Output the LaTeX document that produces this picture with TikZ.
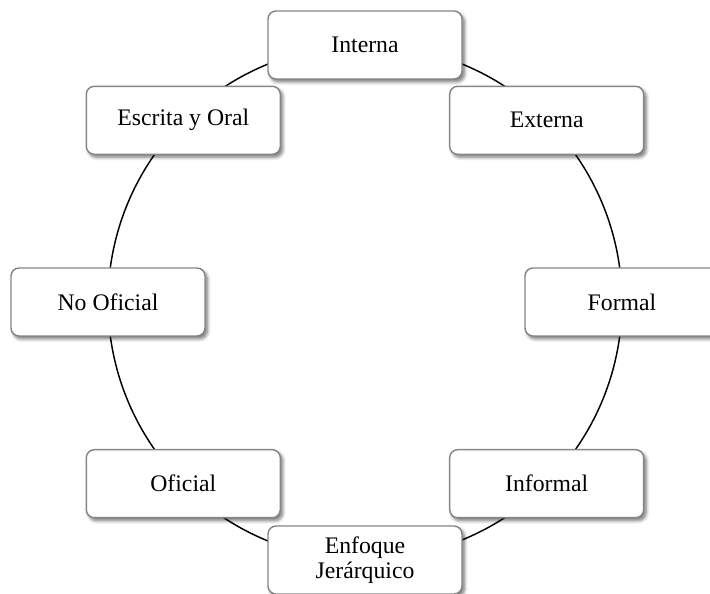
\documentclass[tikz,border=0pt]{standalone}
\usepackage{fontspec}
\setmainfont{Liberation Serif}
\usetikzlibrary{shadows.blur,backgrounds}

\begin{document}
\begin{tikzpicture}[x=0.75pt,y=0.75pt]
\tikzstyle{Block}=[draw=gray!95, line width=1.1pt, fill=white, rounded corners=6pt, minimum width=145.5pt, minimum height=51pt, align=center, font=\fontsize{17.8}{18.5}\selectfont, blur shadow={shadow xshift=1.8pt, shadow yshift=-2.2pt, shadow blur radius=2.5pt, shadow blur steps=6, shadow opacity=55}];
\tikzstyle{ring} = [line width=1.1pt];
\useasboundingbox (0,0) rectangle (710,593);
\node [Block] (v1) at (365,548) {Interna};
\node [Block] (v2) at (546.7,472.7) {Externa};
\node [Block] (v3) at (622,291) {Formal};
\node [Block] (v4) at (546.7,109.3) {Informal};
\node [Block] (v5) at (365,33) {Enfoque\\Jerárquico};
\node [Block] (v6) at (183.3,109.3) {Oficial};
\node [Block] (v7) at (108,291) {No Oficial};
\node [Block] (v8) at (183.3,472.7) {Escrita y Oral};
\begin{scope}[on background layer]
\draw [ring] (v1.center) arc[start angle=90, end angle=45, radius=257];
\draw [ring] (v2.center) arc[start angle=45, end angle=0, radius=257];
\draw [ring] (v3.center) arc[start angle=0, end angle=-45, radius=257];
\draw [ring] (v4.center) arc[start angle=-45, end angle=-90, radius=257];
\draw [ring] (v5.center) arc[start angle=-90, end angle=-135, radius=257];
\draw [ring] (v6.center) arc[start angle=-135, end angle=-180, radius=257];
\draw [ring] (v7.center) arc[start angle=180, end angle=135, radius=257];
\draw [ring] (v8.center) arc[start angle=135, end angle=90, radius=257];
\end{scope}
\end{tikzpicture}
\end{document}
